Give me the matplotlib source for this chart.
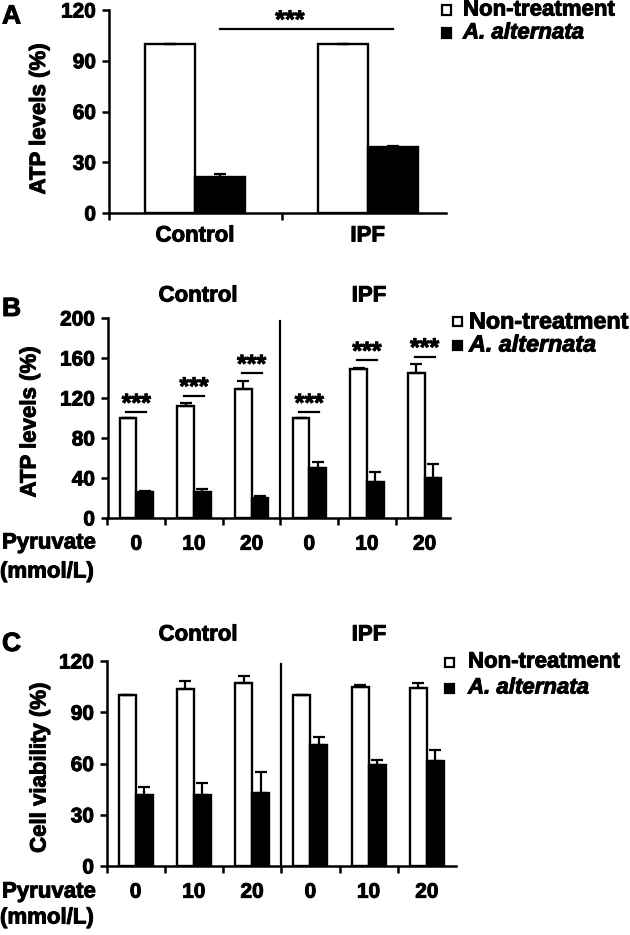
import matplotlib
matplotlib.use("Agg")
import matplotlib.pyplot as plt
import matplotlib.patheffects as pe
from matplotlib.patches import Rectangle
from matplotlib.text import Text
import numpy as np

plt.rcParams['font.family'] = ['Liberation Sans', 'DejaVu Sans']
plt.rcParams['font.weight'] = 'bold'

W, H = 630, 935
FS_TICK = 15
FS_TXT = 16
FS_YLAB = 16
FS_STAR = 18

# ---------------- data ----------------
# Panel A
a_groups = ["Control", "IPF"]
a_non = [100, 100]
a_non_err = [0, 0]
a_alt = [21, 39]
a_alt_err = [2, 0.6]
a_sig_y = 109

# Panel B
pyruvate = ["0", "10", "20", "0", "10", "20"]
b_non = [100, 112.5, 129, 100, 149, 145.5]
b_non_err = [0, 2.5, 8.5, 0, 1, 8.5]
b_alt = [26.5, 26, 20, 50, 36.5, 40]
b_alt_err = [1, 3, 2.5, 6.5, 10, 14]
b_sig_y = [106, 122.5, 145, 106, 158, 161.5]

# Panel C
c_non = [100, 103.5, 107.3, 100, 104.8, 104.4]
c_non_err = [0, 4.8, 4, 0, 1, 2.7]
c_alt = [41.5, 41.5, 42.8, 70.6, 59, 61.5]
c_alt_err = [4.9, 7.2, 12.3, 5, 3.3, 6.3]

group_titles = ["Control", "IPF"]
legend_labels = ["Non-treatment", "A. alternata"]


def px(x, y):
    return x / W, 1 - y / H


def axes_rect(left, right, top, bottom):
    return [left / W, 1 - bottom / H, (right - left) / W, (bottom - top) / H]


def style_axes(ax):
    for s in ["top", "right"]:
        ax.spines[s].set_visible(False)
    for s in ["left", "bottom"]:
        ax.spines[s].set_linewidth(1.8)
    ax.tick_params(axis='y', direction='out', length=5, width=1.8, labelsize=FS_TICK, pad=4)
    ax.tick_params(axis='x', which='major', direction='out', length=5, width=1.8)
    for lab in ax.get_yticklabels():
        lab.set_fontweight('bold')


def draw_bars(ax, x, non, non_err, alt, alt_err, off=0.145, w=0.29):
    x = np.asarray(x, dtype=float)
    ax.bar(x - off, non, width=w, color='white', edgecolor='black', linewidth=1.7, zorder=2)
    ax.bar(x + off, alt, width=w, color='black', edgecolor='black', linewidth=1.7, zorder=2)
    ax.errorbar(x - off, non, yerr=[np.zeros(len(x)), non_err], fmt='none', ecolor='black',
                elinewidth=1.6, capsize=4.5, capthick=1.6, zorder=3)
    ax.errorbar(x + off, alt, yerr=[np.zeros(len(x)), alt_err], fmt='none', ecolor='black',
                elinewidth=1.6, capsize=4.5, capthick=1.6, zorder=3)


def legend(xsq, xtxt, y1, y2, sq=9, fs=FS_TXT):
    fig.add_artist(Rectangle(px(xsq, y1 + sq / 2), sq / W, sq / H, transform=fig.transFigure,
                             facecolor='white', edgecolor='black', linewidth=1.6))
    fig.add_artist(Rectangle(px(xsq, y2 + sq / 2), sq / W, sq / H, transform=fig.transFigure,
                             facecolor='black', edgecolor='black', linewidth=1.6))
    fig.text(*px(xtxt, y1), legend_labels[0], fontsize=fs, fontweight='bold', va='center', ha='left')
    fig.text(*px(xtxt, y2), legend_labels[1], fontsize=fs, fontweight='bold', style='italic',
             va='center', ha='left')


def stars(ax, x, y):
    ax.annotate("***", xy=(x, y), xytext=(0, 1), textcoords='offset pixels',
                ha='center', va='baseline', fontsize=FS_STAR, fontweight='bold',
                annotation_clip=False)


fig = plt.figure(figsize=(W / 100, H / 100), dpi=100)

# ---------------- Panel A ----------------
axA = fig.add_axes(axes_rect(108.5, 446, 10, 213))
xa = np.arange(len(a_groups))
draw_bars(axA, xa, a_non, a_non_err, a_alt, a_alt_err)
axA.set_xlim(-0.5, 1.453)
axA.set_ylim(0, 120)
axA.set_yticks([0, 30, 60, 90, 120])
axA.set_xticks([-0.5, 0.506])
axA.set_xticklabels([])
axA.set_xticks(xa, minor=True)
axA.set_xticklabels(a_groups, minor=True, fontsize=FS_TXT, fontweight='bold')
axA.tick_params(axis='x', which='minor', length=0, pad=9)
style_axes(axA)
axA.plot([xa[0] + 0.145, xa[1] + 0.145], [a_sig_y, a_sig_y], color='black', lw=1.6, clip_on=False)
stars(axA, 0.55, a_sig_y)
fig.text(*px(39.5, 119), "ATP levels (%)", rotation=90, ha='center', va='center',
         fontsize=FS_YLAB, fontweight='bold')
fig.text(*px(2, 16.5), "A", fontsize=19, fontweight='bold', ha='left', va='center')
legend(442, 463, 10, 33)


def panel_grouped(rect, xmax, non, non_err, alt, alt_err, ylim, yticks, ylabel, ylabel_pos,
                  letter, letter_y, title_y, xlab_y, sig=None):
    ax = fig.add_axes(rect)
    x = np.arange(len(pyruvate))
    draw_bars(ax, x, non, non_err, alt, alt_err, off=0.145, w=0.29)
    ax.set_xlim(-0.5, xmax)
    ax.set_ylim(*ylim)
    ax.set_yticks(yticks)
    ax.set_xticks([-0.5, 0.5, 1.5, 2.5, 3.5, 4.5])
    ax.set_xticklabels([])
    ax.set_xticks(x, minor=True)
    ax.set_xticklabels(pyruvate, minor=True, fontsize=FS_TICK, fontweight='bold')
    ax.tick_params(axis='x', which='minor', length=0, pad=12)
    style_axes(ax)
    ax.plot([2.5, 2.5], [0, ylim[1] * 0.985], color='black', lw=1.6, zorder=1)
    if sig is not None:
        for xi, sy in zip(x, sig):
            ax.plot([xi - 0.175, xi + 0.175], [sy, sy], color='black', lw=1.6, clip_on=False)
            stars(ax, xi, sy)
    fig.text(*px(*ylabel_pos), ylabel, rotation=90, ha='center', va='center',
             fontsize=FS_YLAB, fontweight='bold')
    fig.text(*px(2, letter_y), letter, fontsize=19, fontweight='bold', ha='left', va='center')
    fig.text(*px(198, title_y), group_titles[0], fontsize=FS_TXT, fontweight='bold', ha='center', va='center')
    fig.text(*px(369, title_y), group_titles[1], fontsize=FS_TXT, fontweight='bold', ha='center', va='center')
    fig.text(*px(2, xlab_y[0]), "Pyruvate", fontsize=FS_TXT, fontweight='bold', ha='left', va='center')
    fig.text(*px(0, xlab_y[1]), "(mmol/L)", fontsize=FS_TXT, fontweight='bold', ha='left', va='center')
    return ax


# ---------------- Panel B ----------------
panel_grouped(axes_rect(107.5, 450, 318, 518), 5.44, b_non, b_non_err, b_alt, b_alt_err,
              (0, 200), [0, 40, 80, 120, 160, 200], "ATP levels (%)", (30, 422),
              "B", 309, 296, (543, 572), sig=b_sig_y)
legend(453, 469, 322, 345, fs=16.8)

# ---------------- Panel C ----------------
panel_grouped(axes_rect(106.5, 456, 661, 866), 5.5, c_non, c_non_err, c_alt, c_alt_err,
              (0, 120), [0, 30, 60, 90, 120], "Cell viability (%)", (40, 768),
              "C", 644, 635, (892, 918))
legend(445, 468, 662, 688)

# heavier strokes on all text, like the reference's heavy bold type
for t in fig.findobj(Text):
    if t.get_text():
        t.set_path_effects([pe.withStroke(linewidth=0.7, foreground='black')])

fig.savefig("out.png", dpi=100)
